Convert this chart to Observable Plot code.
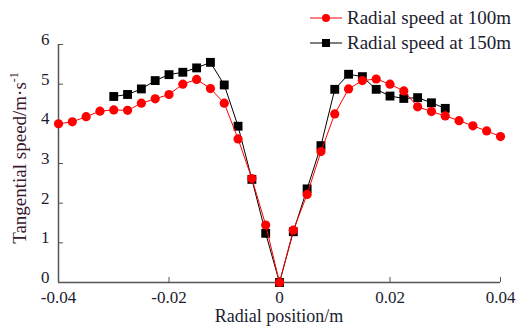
<!DOCTYPE html>
<html>
<head>
<meta charset="utf-8">
<script src="https://cdn.jsdelivr.net/npm/d3@7"></script>
<script src="https://cdn.jsdelivr.net/npm/@observablehq/plot@0.6"></script>
<style>
  html, body { margin: 0; padding: 0; background: #fff; }
  #chart svg { display: block; }
</style>
</head>
<body>
<div id="chart"></div>
<script>
// Tangential speed profiles across the radial position, two heights
const positions100 = [-0.04, -0.0375, -0.035, -0.0325, -0.03, -0.0275, -0.025, -0.0225, -0.02, -0.0175, -0.015, -0.0125, -0.01, -0.0075, -0.005, -0.0025, 0,
  0.0025, 0.005, 0.0075, 0.01, 0.0125, 0.015, 0.0175, 0.02, 0.0225, 0.025, 0.0275, 0.03, 0.0325, 0.035, 0.0375, 0.04];
const speed100 = [4.00, 4.05, 4.18, 4.32, 4.35, 4.34, 4.52, 4.63, 4.74, 5.00, 5.12, 4.89, 4.52, 3.62, 2.62, 1.45, 0,
  1.32, 2.22, 3.30, 4.25, 4.88, 5.09, 5.13, 5.00, 4.83, 4.43, 4.31, 4.20, 4.08, 3.95, 3.82, 3.68];

const positions150 = [-0.03, -0.0275, -0.025, -0.0225, -0.02, -0.0175, -0.015, -0.0125, -0.01, -0.0075, -0.005, -0.0025, 0,
  0.0025, 0.005, 0.0075, 0.01, 0.0125, 0.015, 0.0175, 0.02, 0.0225, 0.025, 0.0275, 0.03];
const speed150 = [4.69, 4.74, 4.88, 5.09, 5.24, 5.30, 5.41, 5.55, 4.98, 3.94, 2.60, 1.24, 0,
  1.28, 2.36, 3.45, 4.87, 5.25, 5.19, 4.87, 4.70, 4.64, 4.66, 4.53, 4.39];

const seriesNames = ["Radial speed at 100m", "Radial speed at 150m"];
const xTicks = [-0.04, -0.02, 0, 0.02, 0.04];
const xTickLabels = ["-0.04", "-0.02", "0", "0.02", "0.04"];
const yTicks = [0, 1, 2, 3, 4, 5, 6];
const yTickLabels = ["0", "1", "2", "3", "4", "5", "6"];
const xTitle = "Radial position/m";
const yTitle = "Tangential speed/m·s";
const yTitleSup = "-1";

const rows100 = positions100.map((x, i) => ({x, y: speed100[i]}));
const rows150 = positions150.map((x, i) => ({x, y: speed150[i]}));

const font = "'Liberation Serif', 'Times New Roman', serif";
const textColor = "#1c1c30";
const axisColor = "#555";

const plot = Plot.plot({
  width: 518,
  height: 327,
  marginLeft: 58,
  marginRight: 18,
  marginTop: 44,
  marginBottom: 45,
  style: {fontFamily: font, fontSize: "17px", color: textColor, background: "#fff"},
  x: {domain: [-0.04, 0.04]},
  y: {domain: [0, 6]},
  marks: [
    Plot.axisX({ticks: xTicks, tickSize: -5, text: null, stroke: axisColor, label: null}),
    Plot.axisX({ticks: xTicks, tickSize: 0, tickPadding: 8, label: null,
      tickFormat: d => xTickLabels[xTicks.indexOf(d)], fill: textColor, fontSize: 17}),
    Plot.axisY({ticks: yTicks, tickSize: -5, text: null, stroke: axisColor, label: null}),
    Plot.axisY({ticks: yTicks, tickSize: 0, tickPadding: 9, dy: -5, label: null,
      tickFormat: d => yTickLabels[yTicks.indexOf(d)], fill: textColor, fontSize: 17}),
    Plot.ruleX([-0.04], {stroke: axisColor, strokeWidth: 1.5}),
    Plot.ruleY([0], {stroke: axisColor, strokeWidth: 1.5}),
    Plot.line(rows150, {x: "x", y: "y", stroke: "#000", strokeWidth: 1}),
    Plot.dot(rows150, {x: "x", y: "y", symbol: "square", r: 5, fill: "#000"}),
    Plot.line(rows100, {x: "x", y: "y", stroke: "#ff0000", strokeWidth: 1}),
    Plot.dot(rows100, {x: "x", y: "y", symbol: "circle", r: 4.6, fill: "#ff0000"})
  ]
});

const svg = d3.select(plot);

// Axis titles
svg.append("text")
  .attr("x", 279).attr("y", 322)
  .attr("text-anchor", "middle")
  .attr("font-size", 18).attr("fill", textColor)
  .text(xTitle);

const yt = svg.append("text")
  .attr("transform", "translate(26,158) rotate(-90)")
  .attr("text-anchor", "middle")
  .attr("font-size", 19).attr("fill", "#3a1830");
yt.append("tspan").text(yTitle);
yt.append("tspan").attr("font-size", 12).attr("dy", -8).text(yTitleSup);

// Legend in the upper right corner
const legend = svg.append("g");
const legendItems = [
  {name: seriesNames[0], color: "#ff0000", shape: "circle", y: 18},
  {name: seriesNames[1], color: "#000", shape: "square", y: 43}
];
for (const item of legendItems) {
  legend.append("line")
    .attr("x1", 310).attr("x2", 342).attr("y1", item.y).attr("y2", item.y)
    .attr("stroke", item.color).attr("stroke-width", 1);
  if (item.shape === "circle") {
    legend.append("circle").attr("cx", 326).attr("cy", item.y).attr("r", 4).attr("fill", item.color);
  } else {
    legend.append("rect").attr("x", 322).attr("y", item.y - 4).attr("width", 8).attr("height", 8).attr("fill", item.color);
  }
  legend.append("text")
    .attr("x", 347).attr("y", item.y + 6)
    .attr("text-anchor", "start")
    .attr("font-size", 19).attr("fill", textColor)
    .text(item.name);
}

// Serif face for every label, ticks included
svg.selectAll("text").style("font-family", font);

document.getElementById("chart").appendChild(plot);
</script>
</body>
</html>
